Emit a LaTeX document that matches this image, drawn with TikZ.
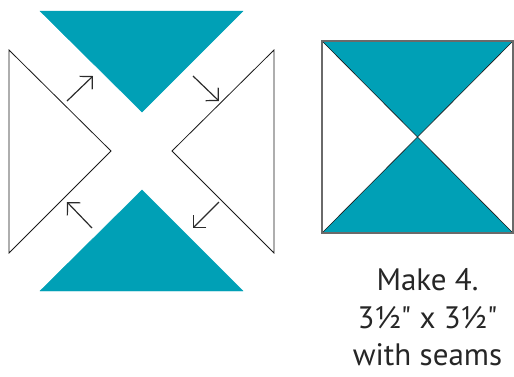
\documentclass[tikz,border=0pt]{standalone}
\usepackage{fontspec}
\newfontfamily\notefont{PT Sans}
\usepackage{xcolor}
\usepackage{tikz}
\usetikzlibrary{arrows.meta}
\definecolor{qteal}{HTML}{00A0B6}
\definecolor{qedge}{HTML}{1A1A1A}
\definecolor{qframe}{HTML}{6A6A6A}
\definecolor{qarrow}{HTML}{2B2B2B}
\tikzset{
  tealtri/.style={fill=qteal, draw=qteal, line width=0.4pt},
  whitetri/.style={fill=white, draw=qedge, line width=0.8pt, line join=miter},
  blockframe/.style={draw=qframe, line width=1.1pt},
  seamline/.style={draw=qedge, line width=0.6pt},
  turnarrow/.style={-{Straight Barb[length=9pt, width=18pt, line width=1.2pt]},
                    qarrow, line width=1.2pt},
  notetext/.style={font=\notefont\fontsize{31}{37.5}\selectfont, text=black!85,
                   anchor=base, inner sep=0pt},
}

\begin{document}
\begin{tikzpicture}[x=1pt, y=-1pt]
  \useasboundingbox (0,0) rectangle (514,376);

  %% exploded block: four triangles around the centre
  \fill[tealtri] (40,11) -- (243,11) -- (142,112) -- cycle;
  \fill[tealtri] (40,291) -- (243,291) -- (142,190) -- cycle;
  \filldraw[whitetri] (9,50) -- (111,151) -- (9,253) -- cycle;
  \filldraw[whitetri] (274,50) -- (172,151) -- (274,253) -- cycle;

  %% turning arrows (clockwise)
  \coordinate (tlfrom) at (67,101);  \coordinate (tlto) at (93,76);
  \coordinate (trfrom) at (193,76);  \coordinate (trto) at (219,101);
  \coordinate (brfrom) at (219,202); \coordinate (brto) at (193,228);
  \coordinate (blfrom) at (92,228);  \coordinate (blto) at (67,202);
  \draw[turnarrow] (tlfrom) -- (tlto);
  \draw[turnarrow] (trfrom) -- (trto);
  \draw[turnarrow] (brfrom) -- (brto);
  \draw[turnarrow] (blfrom) -- (blto);

  %% finished hourglass block
  \coordinate (bnw) at (322,41);  \coordinate (bne) at (513,41);
  \coordinate (bsw) at (322,233); \coordinate (bse) at (513,233);
  \coordinate (bmid) at (417.5,137);
  \fill[white] (bnw) rectangle (bse);
  \fill[qteal] (bnw) -- (bne) -- (bmid) -- cycle;
  \fill[qteal] (bsw) -- (bse) -- (bmid) -- cycle;
  \draw[seamline] (bnw) -- (bse);
  \draw[seamline] (bne) -- (bsw);
  \draw[blockframe] (bnw) rectangle (bse);

  %% caption under the block
  \node[notetext] (make) at (427.5,290) {Make 4.};
  \node[notetext] (size) at (427.5,328) {3½" x 3½"};
  \node[notetext] (seams) at (427.5,365) {with seams};

\end{tikzpicture}
\end{document}
